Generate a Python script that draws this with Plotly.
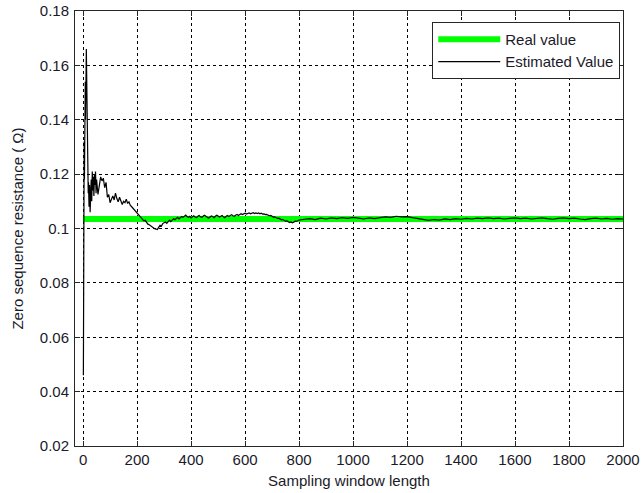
import plotly.graph_objects as go

# ---- data ----
real_x = [0, 2000]
real_y = [0.1035, 0.1035]

est_x = [1, 2, 3, 4, 5, 6, 7, 8, 9, 10, 11, 12, 13, 14, 15, 16, 17, 18, 19, 20,
         22, 24, 26, 28, 30, 32, 34, 36, 38, 40, 42, 44, 46, 48, 50,
         55, 60, 65, 70, 75, 80, 85, 90, 95, 100, 105, 110, 115, 120, 125, 130,
         135, 140, 145, 150, 155, 160, 165, 170, 175, 180, 185, 190, 195, 200,
         205, 210, 215, 220, 225, 230, 235, 240, 245, 250, 255, 260, 265, 270,
         275, 280, 285, 290, 295, 300,
         305, 310, 315, 320, 325, 330, 335, 340, 345, 350, 355, 360, 365, 370,
         375, 380, 385, 390, 395, 400, 405, 410, 415, 420, 425, 430, 435, 440,
         445, 450, 455, 460, 465, 470, 475, 480, 485, 490, 495, 500, 505, 510,
         515, 520, 525, 530, 535, 540, 545, 550, 555, 560, 565, 570, 575, 580,
         585, 590, 595, 600, 605, 610, 615, 620, 625, 630, 635, 640, 645, 650,
         655, 660, 665, 670, 675, 680, 685, 690, 695, 700, 705, 710, 715, 720,
         725, 730, 735, 740, 745, 750, 755, 760, 765, 770, 775, 780, 785, 790,
         795, 800,
         820, 840, 860, 880, 900, 920, 940, 960, 980, 1000, 1020, 1040, 1060,
         1080, 1100, 1120, 1140, 1160, 1180, 1200, 1220, 1240, 1260, 1280, 1300,
         1320, 1340, 1360, 1380, 1400, 1420, 1440, 1460, 1480, 1500, 1520, 1540,
         1560, 1580, 1600, 1620, 1640, 1660, 1680, 1700, 1720, 1740, 1760, 1780,
         1800, 1820, 1840, 1860, 1880, 1900, 1920, 1940, 1960, 1980, 2000]

est_y = [0.046, 0.125, 0.098, 0.132, 0.118, 0.150, 0.128, 0.154, 0.140, 0.163,
         0.150, 0.166, 0.158, 0.146, 0.134, 0.128, 0.120, 0.123, 0.113, 0.117,
         0.108, 0.116, 0.106, 0.112, 0.118, 0.110, 0.121, 0.114, 0.119, 0.112,
         0.120, 0.116, 0.121, 0.113, 0.118,
         0.1125, 0.1160, 0.1190, 0.1175, 0.1185, 0.1150, 0.1170, 0.1115, 0.1125,
         0.1095, 0.1110, 0.1120, 0.1105, 0.1130, 0.1110, 0.1098, 0.1115, 0.1102,
         0.1088, 0.1100, 0.1095, 0.1108, 0.1092, 0.1098, 0.1085, 0.1080, 0.1074,
         0.1068, 0.1062, 0.1056, 0.1050, 0.1046, 0.1040, 0.1033, 0.1028, 0.1030,
         0.1022, 0.1016, 0.1014, 0.1010, 0.1008, 0.1003, 0.0999, 0.0998, 0.0996,
         0.1004, 0.1012, 0.1009, 0.1018, 0.1021,
         0.1024, 0.1019, 0.1027, 0.1031, 0.1025, 0.1029, 0.1036, 0.1032, 0.1038,
         0.1041, 0.1035, 0.1039, 0.1044, 0.1041, 0.1046, 0.1049, 0.1044, 0.1041,
         0.1045, 0.1039, 0.1043, 0.1047, 0.1042, 0.1040, 0.1045, 0.1048, 0.1043,
         0.1041, 0.1046, 0.1049, 0.1045, 0.1042, 0.1038, 0.1042, 0.1046, 0.1044,
         0.1040, 0.1045, 0.1049, 0.1046, 0.1042, 0.1045, 0.1048, 0.1043, 0.1040,
         0.1045, 0.1048, 0.1044, 0.1047, 0.1051, 0.1047, 0.1045, 0.1049, 0.1052,
         0.1048, 0.1051, 0.1054, 0.1051, 0.1054, 0.1056, 0.1053, 0.1055, 0.1057,
         0.1054, 0.1056, 0.1058, 0.1055, 0.1057, 0.1055, 0.1057, 0.1054, 0.1056,
         0.1053, 0.1054, 0.1051, 0.1052, 0.1049, 0.1047, 0.1048, 0.1044, 0.1042,
         0.1043, 0.1039, 0.1037, 0.1038, 0.1034, 0.1032, 0.1033, 0.1029, 0.1027,
         0.1028, 0.1024, 0.1022, 0.1024, 0.1021, 0.1023, 0.1027, 0.1026, 0.1029,
         0.1031,
         0.1034, 0.1036, 0.1033, 0.1038, 0.1035, 0.1039, 0.1036, 0.1040, 0.1037,
         0.1041, 0.1038, 0.1035, 0.1039, 0.1036, 0.1040, 0.1043, 0.1041, 0.1045,
         0.1043, 0.1044, 0.1040, 0.1036, 0.1032, 0.1030, 0.1033, 0.1031, 0.1035,
         0.1033, 0.1036, 0.1034, 0.1037, 0.1035, 0.1038, 0.1036, 0.1039, 0.1036,
         0.1038, 0.1035, 0.1037, 0.1039, 0.1036, 0.1038, 0.1035, 0.1037, 0.1039,
         0.1036, 0.1034, 0.1037, 0.1039, 0.1036, 0.1038, 0.1035, 0.1033, 0.1036,
         0.1038, 0.1035, 0.1037, 0.1034, 0.1036, 0.1035]

x_ticks = [0, 200, 400, 600, 800, 1000, 1200, 1400, 1600, 1800, 2000]
x_ticktext = ["0", "200", "400", "600", "800", "1000", "1200", "1400", "1600", "1800", "2000"]
y_ticks = [0.02, 0.04, 0.06, 0.08, 0.10, 0.12, 0.14, 0.16, 0.18]
y_ticktext = ["0.02", "0.04", "0.06", "0.08", "0.1", "0.12", "0.14", "0.16", "0.18"]

FONT = "Liberation Sans, Arial, sans-serif"
TXT = "#1a1a2a"
AX = "#262626"

fig = go.Figure()
fig.add_trace(go.Scatter(x=real_x, y=real_y, mode="lines", name="Real value",
                         line=dict(color="#00ff00", width=6)))
fig.add_trace(go.Scatter(x=est_x, y=est_y, mode="lines", name="Estimated Value",
                         line=dict(color="black", width=1.2)))

axis_common = dict(showline=True, linecolor=AX, linewidth=1, mirror="ticks",
                   ticks="inside", ticklen=5, tickcolor=AX, automargin=False,
                   showgrid=True, gridcolor="black", gridwidth=1, griddash="3px,3px",
                   zeroline=False, tickfont=dict(family=FONT, size=15, color=TXT))

fig.update_xaxes(range=[-30, 2000], tickvals=x_ticks, ticktext=x_ticktext,
                 title=dict(text="Sampling window length",
                            font=dict(family=FONT, size=15, color=TXT), standoff=8),
                 **axis_common)
fig.update_yaxes(range=[0.02, 0.18], tickvals=y_ticks, ticktext=y_ticktext,
                 ticklabelstandoff=2,
                 title=dict(text="Zero sequence resistance ( Ω)",
                            font=dict(family=FONT, size=15, color=TXT), standoff=12),
                 **axis_common)

fig.update_layout(
    width=641, height=493,
    margin=dict(l=75, r=18, t=11, b=47),
    paper_bgcolor="white", plot_bgcolor="white",
    font=dict(family=FONT, size=15, color=TXT),
    legend=dict(x=0.995, y=0.975, xanchor="right", yanchor="top",
                bgcolor="white", bordercolor=AX, borderwidth=1,
                font=dict(family=FONT, size=15, color=TXT),
                itemwidth=62, tracegroupgap=0),
    showlegend=True,
)

fig.write_html("out.html")
